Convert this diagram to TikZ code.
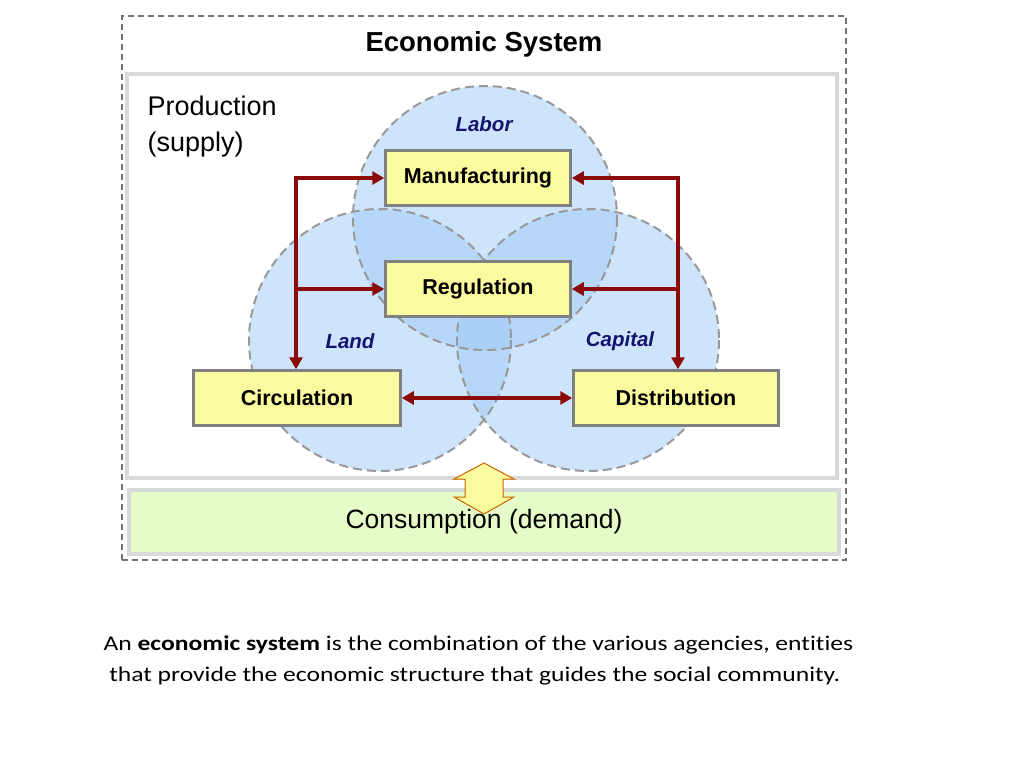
\documentclass[tikz,border=0pt]{standalone}
\usepackage{fontspec}
\setmainfont[Ligatures=NoCommon,FakeStretch=1.22]{Carlito}
\newfontfamily\nar{Liberation Sans}
\usetikzlibrary{arrows.meta}
\definecolor{circ}{HTML}{9FCBF7}
\definecolor{boxy}{HTML}{FAFA9E}
\definecolor{darkr}{HTML}{8B0A0A}
\definecolor{navy}{HTML}{14146E}
\definecolor{cons}{HTML}{E6FCC8}
\begin{document}
\begin{tikzpicture}[x=1pt,y=-1pt,
  ybox/.style={draw=black!50,line width=2.5pt,fill=boxy,minimum height=55pt,font=\nar\bfseries\fontsize{21.5}{24}\selectfont},
  circd/.style={draw=black!40,dash pattern=on 9pt off 5pt,line width=2pt},
  red/.style={draw=darkr,line width=3.5pt,-{Triangle[length=12pt,width=13pt]}},
  lab/.style={text=navy,font=\nar\bfseries\itshape\fontsize{20.5}{24}\selectfont}]
\useasboundingbox (0,0) rectangle (1024,768);
\fill[white] (0,0) rectangle (1024,768);
\node[draw=black!55,dash pattern=on 6pt off 4pt,line width=1.5pt,minimum width=724pt,minimum height=544pt] (outer) at (484,288) {};
\node[font=\nar\bfseries\fontsize{27.5}{32}\selectfont] (title) at (484,44) {Economic System};
\node[draw=black!15,line width=4pt,fill=white,minimum width=710pt,minimum height=404pt] (prod) at (482,276) {};
\node[draw=black!15,line width=4pt,fill=cons,minimum width=710pt,minimum height=64pt,font=\nar\fontsize{26.5}{30}\selectfont] (cons) at (484,522) {Consumption (demand)};
\node[anchor=north west,align=left,font=\nar\fontsize{27}{36}\selectfont] (ps) at (144,92) {Production\\(supply)};
\begin{scope}[fill opacity=0.5]
\fill[circ] (485,218) circle (132);
\fill[circ] (380,340) circle (131);
\fill[circ] (588,340) circle (131);
\end{scope}
\draw[circd] (485,218) circle (132);
\draw[circd] (380,340) circle (131);
\draw[circd] (588,340) circle (131);
\node[lab] (labor) at (484,124) {Labor};
\node[lab] (land) at (350,341) {Land};
\node[lab] (capital) at (620,341) {Capital};
\node[ybox,minimum width=185pt] (man) at (478,178) {Manufacturing};
\node[ybox,minimum width=185pt] (reg) at (478,289) {Regulation};
\node[ybox,minimum width=207pt] (circ) at (297,398) {Circulation};
\node[ybox,minimum width=205pt] (dist) at (676,398) {Distribution};
\coordinate (lt) at (296,178);
\coordinate (rt) at (678,178);
\draw[red] (lt) -- (circ.north -| lt);
\draw[red] ([xshift=-1.75pt]lt) -- (man.west);
\draw[red] (lt |- reg.west) -- (reg.west);
\draw[red] (rt) -- (dist.north -| rt);
\draw[red] ([xshift=1.75pt]rt) -- (man.east);
\draw[red] (rt |- reg.east) -- (reg.east);
\draw[red,{Triangle[length=12pt,width=13pt]}-{Triangle[length=12pt,width=13pt]}] (circ.east) -- (dist.west);
\draw[draw=orange!80!black,line width=1pt,fill=boxy] (484,463) -- (514,479) -- (503,479) -- (503,497) -- (514,497) -- (484,514) -- (454,497) -- (465,497) -- (465,479) -- (454,479) -- cycle;
\node[align=left,anchor=north west,font=\fontsize{21}{31}\selectfont] (cap) at (100,632) {An \textbf{economic system} is the combination of the various agencies, entities\\\ that provide the economic structure that guides the social community.};
\end{tikzpicture}
\end{document}
